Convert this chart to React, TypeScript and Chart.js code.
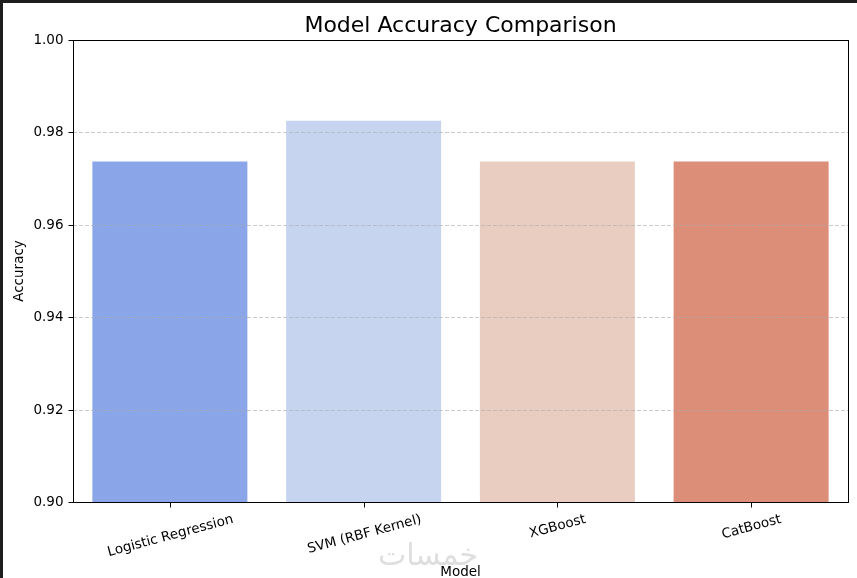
import React, { useEffect, useRef } from "react";
import { Chart, registerables } from "chart.js";

Chart.register(...registerables);

const categories = ["Logistic Regression", "SVM (RBF Kernel)", "XGBoost", "CatBoost"];
const accuracy = [0.9737, 0.9825, 0.9737, 0.9737];
const barColors = ["#8aa6e8", "#c6d4ef", "#e8cdc0", "#dc8e79"];
const yTicks = [0.9, 0.92, 0.94, 0.96, 0.98, 1.0];
const gridValues = [0.92, 0.94, 0.96, 0.98];
const titleText = "Model Accuracy Comparison";
const xTitle = "Model";
const yTitle = "Accuracy";
const watermark = "خمسات";

const FONT = "'DejaVu Sans', sans-serif";

const overlayPlugin = {
  id: "overlay",
  afterDatasetsDraw(chart: any) {
    const { ctx, chartArea: a, scales } = chart;
    const xs = scales.x;
    const ys = scales.y;
    ctx.save();
    // dashed grid over bars
    ctx.strokeStyle = "rgba(170,170,170,0.75)";
    ctx.lineWidth = 0.8;
    ctx.setLineDash([4, 2]);
    for (const v of gridValues) {
      const py = Math.round(ys.getPixelForValue(v)) + 0.5;
      ctx.beginPath();
      ctx.moveTo(a.left, py);
      ctx.lineTo(a.right, py);
      ctx.stroke();
    }
    ctx.setLineDash([]);
    // spines
    ctx.strokeStyle = "#000";
    ctx.lineWidth = 1;
    const L = Math.round(a.left) + 0.5;
    const R = Math.round(a.right) + 0.5;
    const T = Math.round(a.top) + 0.5;
    const B = Math.round(a.bottom) + 0.5;
    ctx.strokeRect(L, T, R - L, B - T);
    // y ticks + labels
    ctx.fillStyle = "#000";
    ctx.font = `13.5px ${FONT}`;
    ctx.textAlign = "right";
    ctx.textBaseline = "middle";
    for (const v of yTicks) {
      const py = Math.round(ys.getPixelForValue(v)) + 0.5;
      ctx.beginPath();
      ctx.moveTo(L - 5, py);
      ctx.lineTo(L, py);
      ctx.stroke();
      ctx.fillText(v.toFixed(2), L - 10, py);
    }
    // x ticks + rotated labels
    const rot = (15 * Math.PI) / 180;
    let maxBottom = 0;
    categories.forEach((c, i) => {
      const px = Math.round(xs.getPixelForValue(i)) + 0.5;
      ctx.beginPath();
      ctx.moveTo(px, B);
      ctx.lineTo(px, B + 5);
      ctx.stroke();
      const w = ctx.measureText(c).width;
      const h = 15;
      const bh = w * Math.sin(rot) + h * Math.cos(rot);
      const top = B + 5 + 4.5;
      maxBottom = Math.max(maxBottom, top + bh);
      ctx.save();
      ctx.translate(px, top + bh / 2);
      ctx.rotate(-rot);
      ctx.textAlign = "center";
      ctx.textBaseline = "middle";
      ctx.fillText(c, 0, 0);
      ctx.restore();
    });
    // axis titles
    ctx.textAlign = "center";
    ctx.textBaseline = "middle";
    ctx.fillText(xTitle, (a.left + a.right) / 2, Math.min(maxBottom + 5.6 + 7.5, 572));
    ctx.save();
    ctx.translate(19, (a.top + a.bottom) / 2);
    ctx.rotate(-Math.PI / 2);
    ctx.fillText(yTitle, 0, 0);
    ctx.restore();
    // title
    ctx.font = `22px ${FONT}`;
    ctx.textBaseline = "alphabetic";
    ctx.fillText(titleText, (a.left + a.right) / 2, a.top - 8);
    // watermark
    ctx.font = `30px ${FONT}`;
    ctx.fillStyle = "#dedede";
    ctx.textBaseline = "alphabetic";
    ctx.fillText(watermark, 428, 565);
    ctx.restore();
  },
};

export default function App() {
  const ref = useRef<HTMLCanvasElement | null>(null);
  useEffect(() => {
    if (!ref.current) return;
    const chart = new Chart(ref.current, {
      type: "bar",
      data: {
        labels: categories,
        datasets: [
          {
            data: accuracy,
            backgroundColor: barColors,
            borderWidth: 0,
            barPercentage: 0.8,
            categoryPercentage: 1.0,
          },
        ],
      },
      options: {
        animation: false,
        responsive: false,
        devicePixelRatio: 1,
        layout: { padding: { top: 40, right: 9, left: 0, bottom: 0 } },
        plugins: { legend: { display: false }, tooltip: { enabled: false }, title: { display: false } },
        scales: {
          x: {
            grid: { display: false },
            border: { display: false },
            ticks: { display: false },
            afterFit: (s: any) => {
              s.height = 76;
            },
          },
          y: {
            min: 0.9,
            max: 1.0,
            grid: { display: false },
            border: { display: false },
            ticks: { display: false, stepSize: 0.02 },
            afterFit: (s: any) => {
              s.width = 73;
            },
          },
        },
      },
      plugins: [overlayPlugin],
    });
    return () => chart.destroy();
  }, []);
  return (
    <div style={{ position: "absolute", left: 0, top: 0, width: 857, height: 578, background: "#fff", overflow: "hidden" }}>
      <canvas ref={ref} width={857} height={578} style={{ display: "block", width: 857, height: 578 }} />
      <div style={{ position: "absolute", left: 0, top: 0, width: 857, height: 3, background: "#1e1e1e" }} />
      <div style={{ position: "absolute", left: 0, top: 0, width: 3, height: 578, background: "#1e1e1e" }} />
    </div>
  );
}
